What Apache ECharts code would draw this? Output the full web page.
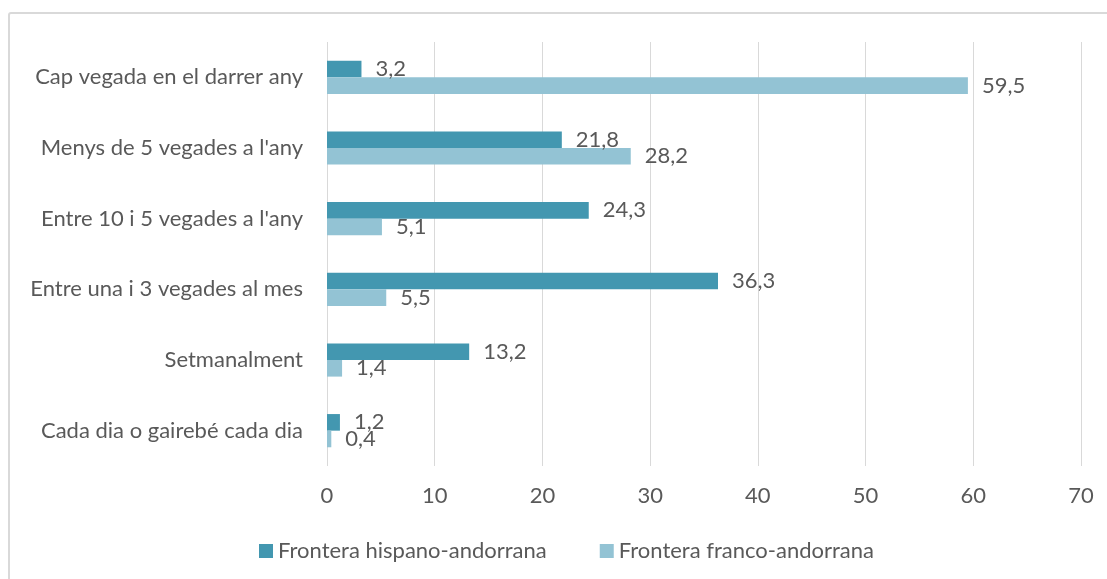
<!DOCTYPE html>
<html>
<head>
<meta charset="utf-8">
<script src="https://cdn.jsdelivr.net/npm/echarts@6/dist/echarts.min.js"></script>
<style>
  html, body { margin: 0; padding: 0; background: #ffffff; }
  #chart { width: 1107px; height: 579px; }
</style>
</head>
<body>
<div id="chart"></div>
<script>
// Categories listed top to bottom as in the picture
const categories = [
  "Cap vegada en el darrer any",
  "Menys de 5 vegades a l'any",
  "Entre 10 i 5 vegades a l'any",
  "Entre una i 3 vegades al mes",
  "Setmanalment",
  "Cada dia o gairebé cada dia"
];
const seriesNames = ["Frontera hispano-andorrana", "Frontera franco-andorrana"];
const hispanoValues = [3.2, 21.8, 24.3, 36.3, 13.2, 1.2];
const francoValues = [59.5, 28.2, 5.1, 5.5, 1.4, 0.4];
const xTicks = { min: 0, max: 70, interval: 10 };

const FONT = 'Lato';
const FS = 22;
const TEXT = '#595959';
const fmt = v => String(v).replace('.', ',');

const chart = echarts.init(document.getElementById('chart'));
chart.setOption({
  backgroundColor: '#ffffff',
  animation: false,
  textStyle: { fontFamily: FONT },
  graphic: [{
    type: 'rect',
    shape: { x: 9, y: 13, width: 1120, height: 600, r: 2 },
    style: { fill: 'none', stroke: '#d9d9d9', lineWidth: 2 },
    silent: true
  }],
  grid: { left: 327, right: 26, top: 42, bottom: 113, containLabel: false },
  legend: {
    data: seriesNames,
    left: 259,
    top: 540,
    padding: 0,
    itemWidth: 14,
    itemHeight: 14,
    itemGap: 53,
    icon: 'rect',
    textStyle: { color: TEXT, fontSize: FS, fontFamily: FONT }
  },
  xAxis: {
    type: 'value',
    min: xTicks.min, max: xTicks.max, interval: xTicks.interval,
    axisLine: { show: false },
    axisTick: { show: false },
    splitLine: { show: true, lineStyle: { color: '#d9d9d9', width: 1 } },
    axisLabel: { color: TEXT, fontSize: FS, fontFamily: FONT, margin: 19 }
  },
  yAxis: {
    type: 'category',
    data: categories,
    inverse: true,
    axisLine: { show: false },
    axisTick: { show: false },
    axisLabel: { color: TEXT, fontSize: FS, fontFamily: FONT, margin: 24 }
  },
  series: [
    {
      name: seriesNames[0],
      type: 'bar',
      data: hispanoValues,
      barGap: '0%',
      barCategoryGap: '53%',
      itemStyle: { color: '#4397b0' },
      label: { show: true, position: 'right', distance: 14, color: TEXT, fontSize: FS, fontFamily: FONT, formatter: p => fmt(p.value) }
    },
    {
      name: seriesNames[1],
      type: 'bar',
      data: francoValues,
      barGap: '0%',
      barCategoryGap: '53%',
      itemStyle: { color: '#93c3d4' },
      label: { show: true, position: 'right', distance: 14, color: TEXT, fontSize: FS, fontFamily: FONT, formatter: p => fmt(p.value) }
    }
  ]
});
</script>
</body>
</html>
